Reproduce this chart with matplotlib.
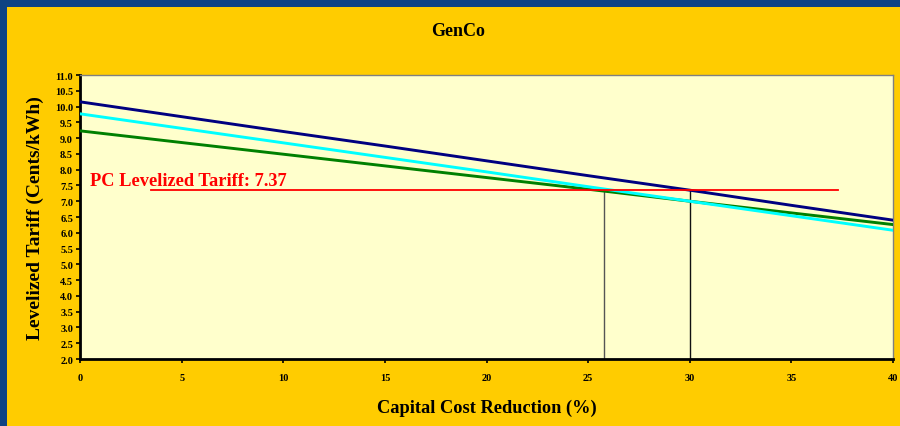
import matplotlib
matplotlib.use("Agg")
import matplotlib.pyplot as plt
import numpy as np
from matplotlib.patches import Rectangle

plt.rcParams["font.family"] = ["Liberation Serif", "DejaVu Serif"]
plt.rcParams["font.weight"] = "bold"

# data
capital_reduction = [0, 5, 10, 15, 20, 25, 30, 35, 40]
tariff_navy = [10.15, 9.68, 9.21, 8.75, 8.28, 7.81, 7.35, 6.87, 6.40]
tariff_cyan = [9.77, 9.31, 8.85, 8.39, 7.93, 7.46, 7.00, 6.54, 6.08]
tariff_green = [9.23, 8.86, 8.49, 8.12, 7.75, 7.38, 7.00, 6.63, 6.26]
pc_tariff = 7.37
pc_span = [3.5, 37.3]
breakeven = [25.8, 30.0]

fig = plt.figure(figsize=(9, 4.27), dpi=100)
fig.patch.set_facecolor("#0e4383")

# yellow panel
fig.patches.append(Rectangle((7 / 900, 0), 1, 1 - 8 / 427, transform=fig.transFigure,
                             facecolor="#ffcc00", edgecolor="none", zorder=-1))

ax = fig.add_axes([80 / 900, 1 - 360 / 427, 813 / 900, 284 / 427])
ax.set_zorder(2)
ax.set_facecolor("#ffffcc")

ax.plot(capital_reduction, tariff_navy, color="#000080", lw=2.1, zorder=3)
ax.plot(capital_reduction, tariff_green, color="#008000", lw=2.1, zorder=3)
ax.plot(capital_reduction, tariff_cyan, color="#00ffff", lw=2.1, zorder=3)

ax.plot(pc_span, [pc_tariff, pc_tariff], color="#ff0000", lw=1.3, zorder=4)
ax.vlines(breakeven[0], 2.0, pc_tariff, color="#555555", lw=1.0, zorder=2)
ax.vlines(breakeven[1], 2.0, pc_tariff, color="#111111", lw=1.0, zorder=2)
ax.text(0.5, 7.65, f"PC Levelized Tariff: {pc_tariff}", color="#ff0000",
        fontsize=13.2, fontweight="bold", va="center", ha="left", zorder=5)

ax.set_xlim(0, 40)
ax.set_ylim(2.0, 11.0)
ax.set_xticks(np.arange(0, 41, 5))
ax.set_yticks(np.arange(2.0, 11.01, 0.5))
ax.set_yticklabels([f"{v:.1f}" for v in np.arange(2.0, 11.01, 0.5)])
ax.tick_params(axis="both", labelsize=7.5, length=3, width=1.2, direction="out")
ax.tick_params(axis="x", pad=7)
ax.tick_params(axis="y", pad=2)
for lbl in ax.get_xticklabels() + ax.get_yticklabels():
    lbl.set_fontweight("bold")

for s in ["left", "bottom"]:
    ax.spines[s].set_linewidth(2)
    ax.spines[s].set_color("black")
for s in ["top", "right"]:
    ax.spines[s].set_linewidth(1)
    ax.spines[s].set_color("#808080")

ax.set_xlabel("Capital Cost Reduction (%)", fontsize=13.2, fontweight="bold", labelpad=12)
ax.set_ylabel("Levelized Tariff (Cents/kWh)", fontsize=14, fontweight="bold", labelpad=8)

fig.text(458 / 900, 1 - 32 / 427, "GenCo", ha="center", va="center",
         fontsize=13, fontweight="bold")

fig.savefig("out.png", dpi=100, facecolor=fig.get_facecolor())
